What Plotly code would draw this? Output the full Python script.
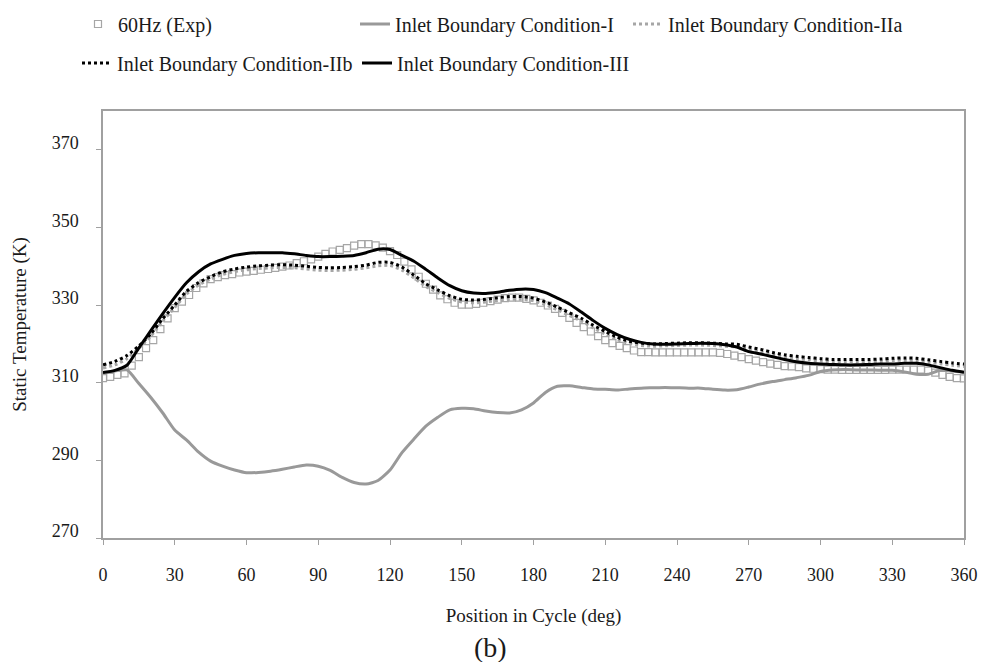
import plotly.graph_objects as go

# ---------------- data ----------------
deg_exp = list(range(0, 361, 3))
exp_60hz = [
    311.2, 311.5, 312.0, 312.4, 314.4, 316.6, 318.9, 321.0, 323.8, 326.6,
    329.2, 330.9, 332.6, 334.4, 335.6, 336.7, 337.2, 337.7, 338.0, 338.4,
    338.6, 338.8, 339.1, 339.3, 339.6, 339.9, 340.2, 340.8, 341.3, 341.8,
    342.5, 343.2, 343.8, 344.2, 344.7, 345.3, 345.7, 345.7, 345.4, 344.8,
    343.9, 342.9, 341.2, 339.2, 337.3, 335.5, 334.0, 332.5, 331.5, 330.6,
    330.1, 330.1, 330.3, 330.6, 331.0, 331.4, 331.8, 331.9, 331.9, 331.6,
    331.2, 330.6, 329.9, 329.0, 328.0, 326.7, 325.4, 324.3, 323.2, 322.0,
    321.0, 320.2, 319.5, 318.9, 318.3, 317.9, 317.9, 317.8, 317.8, 317.8,
    317.8, 317.8, 317.8, 317.8, 317.8, 317.8, 317.7, 317.4, 317.0, 316.6,
    316.1, 315.7, 315.3, 314.9, 314.6, 314.3, 314.2, 314.0, 313.7, 313.6,
    313.5, 313.4, 313.4, 313.3, 313.3, 313.3, 313.3, 313.3, 313.3, 313.3,
    313.4, 313.4, 313.4, 313.4, 313.4, 313.1, 312.6, 312.0, 311.5, 311.2,
    311.1,
]

deg = list(range(0, 361, 5))
bc_I = [
    312.6, 313.0, 313.3, 309.8, 306.2, 302.2, 297.8, 295.2, 292.1, 289.8,
    288.5, 287.5, 286.8, 286.9, 287.2, 287.7, 288.3, 288.8, 288.5, 287.4,
    285.6, 284.3, 283.9, 284.8, 287.5, 292.0, 295.5, 298.8, 301.1, 303.0,
    303.4, 303.3, 302.7, 302.3, 302.2, 303.0, 304.8, 307.5, 309.1, 309.2,
    308.8, 308.4, 308.3, 308.1, 308.4, 308.6, 308.7, 308.8, 308.7, 308.6,
    308.6, 308.3, 308.1, 308.2, 308.9, 309.7, 310.3, 310.8, 311.3, 311.9,
    312.9, 313.3, 313.4, 313.3, 313.3, 313.2, 313.2, 312.8, 312.2, 312.2,
    313.2, 313.0, 312.7,
]
bc_IIa = [
    313.8, 314.6, 316.2, 318.9, 322.0, 325.9, 329.4, 332.9, 335.2, 336.7,
    337.9, 338.6, 339.1, 339.4, 339.6, 339.7, 339.6, 339.3, 339.0, 338.9,
    339.0, 339.2, 339.6, 340.1, 340.2, 339.0, 337.0, 334.8, 333.2, 331.7,
    330.8, 330.6, 330.8, 331.2, 331.5, 331.5, 331.1, 330.1, 328.8, 327.3,
    325.9, 324.1, 322.5, 321.1, 320.1, 319.6, 319.4, 319.5, 319.6, 319.7,
    319.7, 319.6, 319.4, 319.2, 318.5, 317.9, 317.2, 316.6, 316.2, 315.9,
    315.6, 315.4, 315.4, 315.4, 315.4, 315.5, 315.7, 315.8, 315.7, 315.3,
    314.9, 314.5, 314.2,
]
bc_IIb = [
    314.6, 315.5, 317.0, 319.5, 322.6, 326.5, 330.0, 333.6, 335.8, 337.3,
    338.6, 339.3, 339.8, 340.1, 340.3, 340.4, 340.3, 340.0, 339.7, 339.6,
    339.7, 339.9, 340.3, 341.0, 341.0, 339.8, 337.7, 335.5, 333.9, 332.4,
    331.5, 331.3, 331.5, 331.9, 332.2, 332.2, 331.8, 330.8, 329.5, 328.0,
    326.6, 324.8, 323.2, 321.7, 320.7, 320.2, 320.0, 320.1, 320.2, 320.3,
    320.3, 320.2, 320.0, 319.9, 319.2, 318.6, 317.8, 317.2, 316.8, 316.5,
    316.2, 316.0, 316.0, 316.0, 316.0, 316.1, 316.3, 316.4, 316.3, 315.9,
    315.5, 315.1, 314.8,
]
bc_III = [
    312.6, 313.2, 314.5, 319.0, 323.4, 327.8, 332.0, 335.8, 338.6, 340.6,
    341.8, 342.8, 343.3, 343.5, 343.5, 343.5, 343.2, 342.8, 342.5, 342.5,
    342.6, 342.8, 343.5, 344.4, 344.3, 342.8, 341.3, 339.2, 337.0, 335.0,
    333.7, 333.1, 333.0, 333.3, 333.8, 334.1, 334.0, 333.2, 331.8, 330.3,
    328.2, 326.0, 324.0, 322.4, 321.2, 320.4, 320.0, 319.9, 320.0, 320.1,
    320.2, 320.1, 319.8, 319.2, 318.0, 317.4, 316.7, 316.0, 315.4, 315.0,
    314.8, 314.7, 314.6, 314.6, 314.7, 314.8, 314.8, 315.0, 315.0, 314.6,
    313.9, 313.2, 312.7,
]

x_ticks = list(range(0, 361, 30))
y_ticks = list(range(270, 371, 20))

names = [
    "60Hz (Exp)",
    "Inlet Boundary Condition-I",
    "Inlet Boundary Condition-IIa",
    "Inlet Boundary Condition-IIb",
    "Inlet Boundary Condition-III",
]

FONT = "Liberation Serif, Times New Roman, serif"
TXT = "#1a1a1a"
AX = "#a0a0a0"

fig = go.Figure()

fig.add_trace(go.Scatter(
    x=deg_exp, y=exp_60hz, mode="markers", name=names[0], legend="legend",
    marker=dict(symbol="square-open", size=7, color="#a6a6a6",
                line=dict(width=1.2, color="#a6a6a6")),
))
fig.add_trace(go.Scatter(
    x=deg, y=bc_I, mode="lines", name=names[1], legend="legend2",
    line=dict(color="#999999", width=3, shape="spline", smoothing=0.6),
))
fig.add_trace(go.Scatter(
    x=deg, y=bc_IIa, mode="lines", name=names[2], legend="legend3",
    line=dict(color="#a6a6a6", width=3, dash="dot", shape="spline", smoothing=0.6),
))
fig.add_trace(go.Scatter(
    x=deg, y=bc_IIb, mode="lines", name=names[3], legend="legend4",
    line=dict(color="#000000", width=3, dash="dot", shape="spline", smoothing=0.6),
))
fig.add_trace(go.Scatter(
    x=deg, y=bc_III, mode="lines", name=names[4], legend="legend5",
    line=dict(color="#000000", width=3, shape="spline", smoothing=0.6),
))

W, H = 990, 662


def leg(px, py):
    return dict(
        x=px / W, y=1 - py / H, xref="container", yref="container",
        xanchor="left", yanchor="middle", orientation="h",
        bgcolor="rgba(0,0,0,0)", borderwidth=0,
        font=dict(family=FONT, size=20, color=TXT),
    )


fig.update_layout(
    width=W, height=H,
    margin=dict(l=103, r=22, t=111, b=124),
    paper_bgcolor="white", plot_bgcolor="white",
    font=dict(family=FONT, color=TXT),
    showlegend=True,
    legend=leg(78, 24),
    legend2=leg(355, 24),
    legend3=leg(628, 24),
    legend4=leg(77, 63),
    legend5=leg(357, 63),
    xaxis=dict(
        range=[0, 360], tickvals=x_ticks, ticktext=[str(v) for v in x_ticks],
        showgrid=False, zeroline=False,
        showline=True, linecolor=AX, linewidth=1.5, mirror=True,
        ticks="outside", ticklen=5, tickcolor=AX, tickwidth=1.2,
        tickfont=dict(family=FONT, size=18, color=TXT),
        ticklabelstandoff=15,
        title=dict(text="Position in Cycle (deg)", standoff=24,
                   font=dict(family=FONT, size=19, color=TXT)),
    ),
    yaxis=dict(
        range=[270, 380], tickvals=y_ticks, ticktext=[str(v) for v in y_ticks],
        showgrid=False, zeroline=False,
        showline=True, linecolor=AX, linewidth=1.5, mirror=True,
        ticks="outside", ticklen=5, tickcolor=AX, tickwidth=1.2,
        tickfont=dict(family=FONT, size=18, color=TXT),
        ticklabelstandoff=14, ticklabelshift=-7,
        title=dict(text="Static Temperature (K)", standoff=20,
                   font=dict(family=FONT, size=19, color=TXT)),
    ),
    annotations=[dict(
        text="(b)",
        x=(492 - 103) / (W - 103 - 22), y=-(647 - 538) / (538 - 111),
        xref="paper", yref="paper",
        showarrow=False, font=dict(family=FONT, size=28, color=TXT),
        xanchor="center", yanchor="middle",
    )],
)

fig.write_html("out.html")
